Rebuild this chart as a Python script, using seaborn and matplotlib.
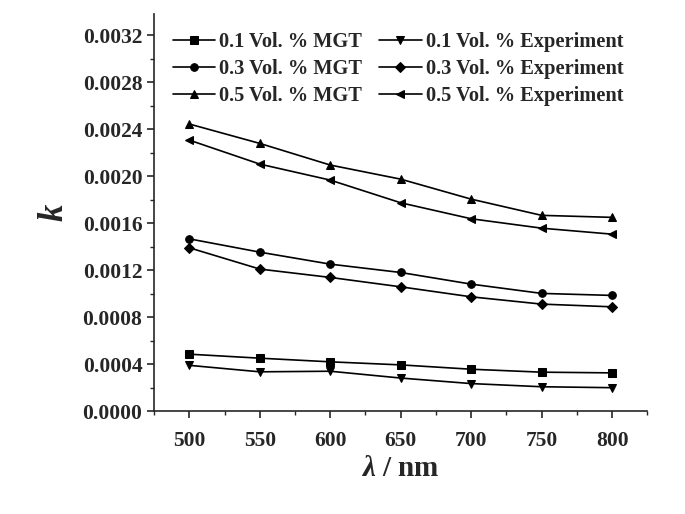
import numpy as np
import pandas as pd
import seaborn as sns
import matplotlib.pyplot as plt
from matplotlib.ticker import MultipleLocator, FormatStrFormatter

# wavelength (nm)
wavelength = [500, 550, 600, 650, 700, 750, 800]

# extinction coefficient k
mgt_01 = [0.000485, 0.000451, 0.000420, 0.000394, 0.000357, 0.000332, 0.000326]
mgt_03 = [0.001466, 0.001353, 0.001251, 0.001180, 0.001081, 0.001002, 0.000985]
mgt_05 = [0.002443, 0.002278, 0.002094, 0.001974, 0.001804, 0.001666, 0.001649]
exp_01 = [0.000390, 0.000335, 0.000340, 0.000282, 0.000235, 0.000208, 0.000200]
exp_03 = [0.001390, 0.001209, 0.001138, 0.001058, 0.000973, 0.000911, 0.000888]
exp_05 = [0.002306, 0.002102, 0.001966, 0.001773, 0.001637, 0.001557, 0.001506]

labels = ["0.1 Vol. % MGT", "0.3 Vol. % MGT", "0.5 Vol. % MGT",
          "0.1 Vol. % Experiment", "0.3 Vol. % Experiment", "0.5 Vol. % Experiment"]
series = [mgt_01, mgt_03, mgt_05, exp_01, exp_03, exp_05]
marker_map = dict(zip(labels, ["s", "o", "^", "v", "D", "<"]))

rows = []
for lab, vals in zip(labels, series):
    for w, v in zip(wavelength, vals):
        rows.append({"wl": w, "k": v, "serie": lab})
df = pd.DataFrame(rows)

sns.set_style("ticks")
plt.rcParams["font.family"] = ["Liberation Serif", "DejaVu Serif"]
plt.rcParams["font.weight"] = "bold"
plt.rcParams["mathtext.fontset"] = "custom"
plt.rcParams["mathtext.it"] = "Liberation Serif:italic:bold"
plt.rcParams["mathtext.rm"] = "Liberation Serif:bold"

fig = plt.figure(figsize=(6.85, 5.14), dpi=100)
ax = fig.add_axes([0.225, 0.2, 0.72, 0.773])

sns.lineplot(data=df, x="wl", y="k", style="serie", style_order=labels,
             markers=marker_map, dashes=False, color="black", linewidth=1.2,
             markersize=5.5, markeredgecolor="black", ax=ax)

ax.set_xlim(475, 825)
ax.set_ylim(0, 0.00338)
ax.xaxis.set_major_locator(MultipleLocator(50))
ax.xaxis.set_minor_locator(MultipleLocator(25))
ax.yaxis.set_major_locator(MultipleLocator(0.0004))
ax.yaxis.set_minor_locator(MultipleLocator(0.0002))
ax.yaxis.set_major_formatter(FormatStrFormatter("%.4f"))
ax.tick_params(axis="both", which="major", direction="out", length=5, width=1.2,
               labelsize=15.5)
ax.tick_params(axis="x", which="major", pad=9)
ax.tick_params(axis="both", which="minor", direction="out", length=3, width=1.0)
for lbl in ax.get_xticklabels() + ax.get_yticklabels():
    lbl.set_fontweight("bold")

for s in ["top", "right"]:
    ax.spines[s].set_visible(False)
for s in ["left", "bottom"]:
    ax.spines[s].set_linewidth(1.2)

ax.set_xlabel(r"$\lambda$ / nm", fontsize=21, fontweight="bold", labelpad=3)
ax.set_ylabel("$k$", fontsize=25, fontweight="bold", labelpad=8)

handles, labs = ax.get_legend_handles_labels()
ax.legend(handles, labs, ncol=2, frameon=False, loc="upper left",
          bbox_to_anchor=(0.0, 1.0), prop={"size": 14.7, "weight": "bold"},
          handlelength=2.1, handletextpad=0.2, columnspacing=0.8,
          labelspacing=0.33)

fig.savefig("out.png", dpi=100)
